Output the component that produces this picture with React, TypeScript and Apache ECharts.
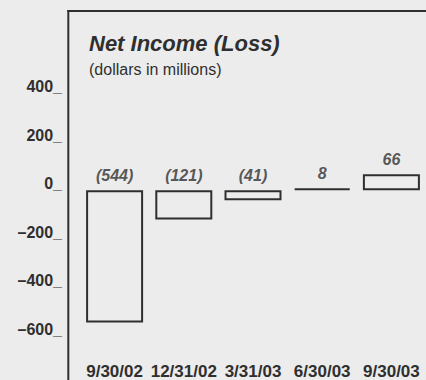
import React, { useEffect, useRef } from "react";
import * as echarts from "echarts";

const categories: string[] = ["9/30/02", "12/31/02", "3/31/03", "6/30/03", "9/30/03"];
const netIncome: number[] = [-544, -121, -41, 8, 66];
const yMin = -600;
const yMax = 400;
const yInterval = 200;
const titleText = "Net Income (Loss)";
const subtitleText = "(dollars in millions)";

const INK = "#2f2f2f";
const BG = "#ececec";
const FONT = "'Liberation Sans', Arial, Helvetica, sans-serif";

function fmtValue(v: number): string {
  return v < 0 ? `(${Math.abs(v)})` : `${v}`;
}
function fmtTick(v: number): string {
  return (v < 0 ? "\u2013" + Math.abs(v) : String(v)) + "_";
}

export default function App() {
  const ref = useRef<HTMLDivElement>(null);
  useEffect(() => {
    if (!ref.current) return;
    const chart = echarts.init(ref.current, null, { renderer: "svg" });
    chart.setOption({
      animation: false,
      backgroundColor: BG,
      grid: { left: 80, top: 93, width: 346, height: 250, containLabel: false },
      xAxis: {
        type: "category",
        data: categories,
        axisLine: { show: false, onZero: false },
        axisTick: { show: false },
        axisLabel: {
          margin: 27,
          color: INK,
          fontFamily: FONT,
          fontWeight: "bold",
          fontSize: 17,
          interval: 0,
        },
        splitLine: { show: false },
      },
      yAxis: {
        type: "value",
        min: yMin,
        max: yMax,
        interval: yInterval,
        axisLine: { show: false },
        axisTick: { show: false },
        splitLine: { show: false },
        axisLabel: {
          margin: 18,
          color: INK,
          fontFamily: FONT,
          fontWeight: "bold",
          fontSize: 16,
          verticalAlign: "bottom",
          lineHeight: 13,
          formatter: (v: number) => fmtTick(v),
        },
      },
      series: [
        {
          type: "bar",
          data: netIncome.map((v) => ({
            value: v,
            itemStyle: { color: Math.abs(v) < 10 ? INK : "transparent" },
          })),
          barWidth: 57,
          itemStyle: { color: "transparent", borderColor: INK, borderWidth: 2 },
          label: { show: false },
          silent: true,
        },
        {
          type: "scatter",
          data: netIncome.map((v, i) => [i, Math.max(v, 0), v]),
          symbolSize: 0,
          silent: true,
          label: {
            show: true,
            position: "top",
            distance: 6.5,
            color: INK,
            fontFamily: FONT,
            fontWeight: "bold",
            fontStyle: "italic",
            fontSize: 16,
            lineHeight: 16,
            formatter: (p: any) => fmtValue(p.data[2]),
          },
        },
      ],
      graphic: [
        {
          type: "line",
          shape: { x1: 68.3, y1: 10, x2: 68.3, y2: 380 },
          style: { stroke: INK, lineWidth: 2 },
        },
        {
          type: "line",
          shape: { x1: 67.3, y1: 11, x2: 426, y2: 11 },
          style: { stroke: INK, lineWidth: 2 },
        },
        {
          type: "text",
          x: 89,
          y: 43,
          style: {
            text: titleText,
            fill: INK,
            font: `italic bold 22px ${FONT}`,
            verticalAlign: "middle",
            align: "left",
          },
        },
        {
          type: "text",
          x: 89,
          y: 69,
          style: {
            text: subtitleText,
            fill: INK,
            font: `16px ${FONT}`,
            verticalAlign: "middle",
            align: "left",
          },
        },
      ],
    });
    return () => chart.dispose();
  }, []);
  return (
    <div
      ref={ref}
      style={{ position: "fixed", left: 0, top: 0, width: 426, height: 380, background: BG }}
    />
  );
}
